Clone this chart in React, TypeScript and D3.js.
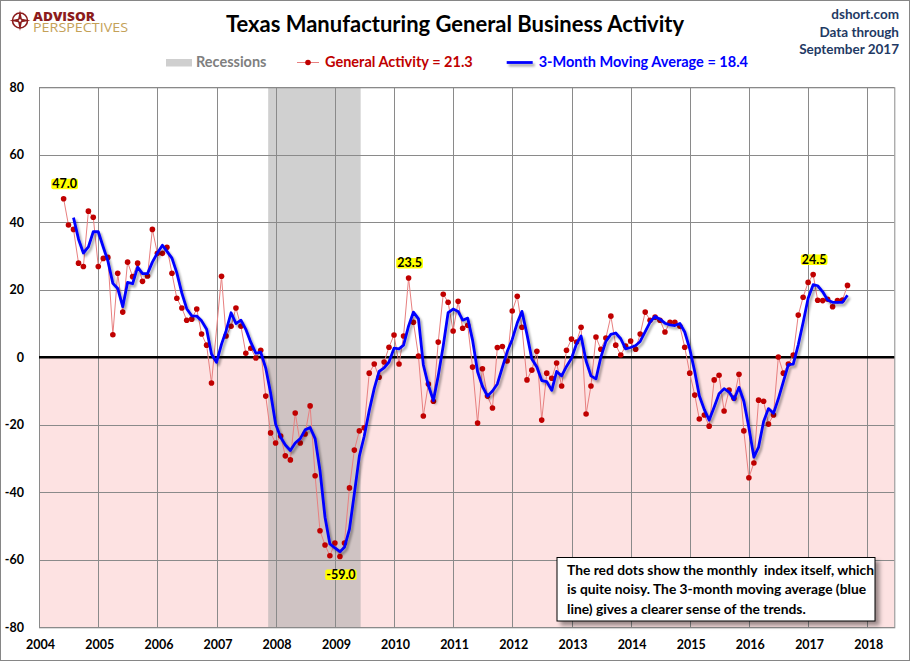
import React, { useEffect, useRef } from 'react';
import * as d3 from 'd3';

// Texas Manufacturing Outlook Survey - general business activity, monthly from June 2004
const firstMonth = new Date(2004, 5, 1);

const generalActivity: (number | null)[] = [
  // 2004 Jun-Dec
  47.0, 39.2, 37.9, 27.9, 26.9, 43.3, 41.5,
  // 2005
  26.9, 29.3, 29.6, 6.7, 24.9, 13.4, 28.2, 23.9, 27.9, 22.5, 24.1, 37.9,
  // 2006
  30.8, 30.8, 32.6, 24.9, 17.5, 14.6, 11.0, 11.3, 14.3, 6.9, 3.6, -7.6,
  // 2007 (no dot for January)
  null, 24.0, 6.3, 9.2, 14.6, 9.2, 1.2, 2.7, -0.2, 2.1, -11.5, -22.4,
  // 2008
  -25.4, -23.3, -29.2, -30.4, -16.5, -25.4, -22.7, -14.4, -35.1, -51.4, -55.6, -58.8,
  // 2009
  -55.0, -59.0, -55.0, -38.7, -27.5, -21.8, -20.9, -4.7, -2.0, -5.9, -1.4, 3.0,
  // 2010
  6.6, -2.0, 6.3, 23.5, 10.4, 0.4, -17.4, -7.9, -13.0, 4.5, 18.7, 16.3,
  // 2011
  7.8, 16.6, 8.6, 9.5, -2.9, -19.5, -3.4, -11.5, -15.0, 2.9, 3.2, -1.1,
  // 2012
  13.7, 18.1, 8.9, -6.7, -3.8, 1.8, -18.6, -4.7, -6.2, -1.7, -8.5, 2.1,
  // 2013
  5.4, 4.5, 8.9, -16.8, -8.5, 6.0, 2.4, 5.7, 12.2, 3.6, 0.7, 3.3,
  // 2014
  4.8, 2.4, 6.9, 13.4, 11.0, 11.9, 11.0, 7.5, 10.4, 10.4, 9.2, 3.0,
  // 2015
  -4.7, -11.2, -18.3, -17.1, -20.4, -6.7, -5.3, -15.9, -9.7, -12.1, -5.0, -21.8,
  // 2016
  -35.7, -31.3, -12.7, -13.0, -19.8, -17.1, 0.1, -4.7, -2.0, 0.7, 12.5, 17.8,
  // 2017 Jan-Sep
  22.2, 24.5, 16.9, 16.8, 17.2, 15.0, 16.8, 17.0, 21.3,
];

const movingAverage: (number | null)[] = [
  // 2004 Jun-Dec
  null, null, 41.4, 35.0, 30.9, 32.7, 37.2,
  // 2005
  37.2, 32.6, 28.6, 21.9, 20.4, 15.0, 22.2, 21.8, 26.7, 24.8, 24.8, 28.2,
  // 2006
  30.9, 33.2, 31.4, 29.4, 25.0, 19.0, 14.4, 12.3, 12.2, 10.8, 8.3, 1.0,
  // 2007
  -1.5, 3.9, 7.8, 13.2, 10.0, 11.0, 8.3, 4.4, 1.2, 1.5, -3.2, -10.6,
  // 2008
  -19.8, -23.7, -26.0, -27.6, -25.4, -24.1, -21.5, -20.8, -24.1, -33.6, -47.4, -55.3,
  // 2009
  -56.5, -57.6, -56.3, -50.9, -40.4, -29.3, -23.4, -15.8, -9.2, -4.2, -3.1, -1.4,
  // 2010
  2.7, 2.5, 3.6, 9.3, 13.4, 11.4, -2.2, -8.3, -12.8, -5.5, 3.4, 13.2,
  // 2011
  14.3, 13.6, 11.0, 11.6, 5.1, -4.3, -8.6, -11.5, -10.0, -7.9, -3.0, 1.7,
  // 2012
  5.3, 10.2, 13.6, 6.8, -0.5, -2.9, -6.9, -7.2, -9.8, -4.2, -5.5, -2.7,
  // 2013
  -0.3, 4.0, 6.3, -1.1, -5.5, -6.4, 0.0, 4.7, 6.8, 7.2, 5.5, 2.5,
  // 2014
  2.9, 3.5, 4.7, 7.6, 10.4, 12.1, 11.3, 10.1, 9.6, 9.4, 10.0, 7.5,
  // 2015
  2.5, -4.3, -11.4, -15.5, -18.6, -14.7, -10.8, -9.3, -10.3, -12.6, -8.9, -13.0,
  // 2016
  -20.8, -29.6, -26.6, -19.0, -15.2, -16.6, -12.3, -7.2, -2.2, -2.0, 3.7, 10.3,
  // 2017 Jan-Sep
  17.5, 21.5, 21.2, 19.4, 17.0, 16.3, 16.3, 16.3, 18.4,
];

const yearTicks = [2004, 2005, 2006, 2007, 2008, 2009, 2010, 2011, 2012, 2013, 2014, 2015, 2016, 2017, 2018];
const valueTicks = [-80, -60, -40, -20, 0, 20, 40, 60, 80];

const recession = { start: new Date(2007, 10, 16), end: new Date(2009, 5, 9) };

// highlighted readings: [month index from June 2004, label]
const callouts: [number, string][] = [
  [0, '47.0'],
  [56, '-59.0'],
  [70, '23.5'],
  [152, '24.5'],
];

const headerLines = ['dshort.com', 'Data through', 'September 2017'];
const noteLines = [
  'The red dots show the monthly  index itself, which',
  'is quite noisy. The 3-month moving average (blue',
  'line) gives a clearer sense of the trends.',
];

const FONT = 'Lato, "Open Sans", sans-serif';

const App: React.FC = () => {
  const chartRef = useRef<SVGSVGElement | null>(null);

  useEffect(() => {
    drawChart();
  }, []);

  const drawChart = () => {
    const root = d3.select(chartRef.current);
    root.selectAll('*').remove();

    const width = 910;
    const height = 661;
    const plot = { left: 39, top: 87.3, right: 894.3, bottom: 627.3 };

    const defs = root.append('defs');
    const shadow = defs.append('filter').attr('id', 'lineShadow')
      .attr('filterUnits', 'userSpaceOnUse')
      .attr('x', 0).attr('y', 0).attr('width', width).attr('height', height);
    shadow.append('feDropShadow').attr('dx', 2).attr('dy', 2.5).attr('stdDeviation', 1.3)
      .attr('flood-color', '#000').attr('flood-opacity', 0.35);
    const boxShadow = defs.append('filter').attr('id', 'boxShadow')
      .attr('x', '-5%').attr('y', '-10%').attr('width', '115%').attr('height', '130%');
    boxShadow.append('feDropShadow').attr('dx', 4).attr('dy', 4).attr('stdDeviation', 2)
      .attr('flood-color', '#000').attr('flood-opacity', 0.4);

    const svg = root.attr('width', width).attr('height', height).style('font-family', FONT);

    svg.append('rect').attr('x', 0.5).attr('y', 0.5).attr('width', width - 1).attr('height', height - 1)
      .attr('fill', '#fff').attr('stroke', '#868686');

    const x = d3.scaleTime()
      .domain([new Date(2004, 0, 1), new Date(2018, 5, 17)])
      .range([plot.left, plot.right]);
    const y = d3.scaleLinear().domain([-80, 80]).range([plot.bottom, plot.top]);

    const monthDate = (i: number) => d3.timeMonth.offset(firstMonth, i);

    // negative zone
    svg.append('rect')
      .attr('x', plot.left).attr('y', y(0))
      .attr('width', plot.right - plot.left).attr('height', y(-80) - y(0))
      .attr('fill', '#fde2e2');

    // recession band
    svg.append('rect')
      .attr('x', x(recession.start)).attr('y', plot.top)
      .attr('width', x(recession.end) - x(recession.start)).attr('height', plot.bottom - plot.top)
      .attr('fill', 'rgb(172,172,172)').attr('fill-opacity', 0.56);

    // grid
    const grid = svg.append('g').attr('stroke', '#8a8a8a').attr('stroke-width', 1);
    yearTicks.filter((yr) => x(new Date(yr, 0, 1)) > plot.left + 1).forEach((yr) => {
      const gx = Math.round(x(new Date(yr, 0, 1))) + 0.5;
      grid.append('line').attr('x1', gx).attr('x2', gx).attr('y1', plot.top).attr('y2', plot.bottom);
    });
    valueTicks.forEach((v) => {
      const gy = Math.round(y(v)) + 0.5;
      grid.append('line').attr('x1', plot.left).attr('x2', plot.right).attr('y1', gy).attr('y2', gy);
    });
    svg.append('rect')
      .attr('x', plot.left + 0.5).attr('y', plot.top + 0.5)
      .attr('width', plot.right - plot.left).attr('height', plot.bottom - plot.top)
      .attr('fill', 'none').attr('stroke', '#8a8a8a');

    // zero line
    svg.append('line')
      .attr('x1', plot.left).attr('x2', plot.right)
      .attr('y1', y(0)).attr('y2', y(0))
      .attr('stroke', '#000').attr('stroke-width', 2.5);

    // axis labels
    svg.append('g').selectAll('text').data(valueTicks).join('text')
      .attr('x', 24).attr('y', (d) => y(d) + 4.5)
      .attr('text-anchor', 'end').attr('font-size', 12.5).attr('font-weight', 700)
      .attr('fill', '#000').text((d) => d);
    svg.append('g').selectAll('text').data(yearTicks).join('text')
      .attr('x', (d) => x(new Date(d, 0, 1)) + 1.5).attr('y', 649)
      .attr('text-anchor', 'middle').attr('font-size', 12.5).attr('font-weight', 700)
      .attr('fill', '#000').text((d) => d);

    // general activity (red)
    const redPts = generalActivity
      .map((v, i) => ({ date: monthDate(i), v }))
      .filter((d) => d.v !== null) as { date: Date; v: number }[];
    const line = d3.line<{ date: Date; v: number }>().x((d) => x(d.date)).y((d) => y(d.v));
    svg.append('path').datum(redPts)
      .attr('fill', 'none').attr('stroke', '#e88080').attr('stroke-width', 1)
      .attr('d', line);
    svg.append('g').selectAll('circle').data(redPts).join('circle')
      .attr('cx', (d) => x(d.date)).attr('cy', (d) => y(d.v)).attr('r', 2.8)
      .attr('fill', '#c00000');

    // moving average (blue)
    const bluePts = movingAverage
      .map((v, i) => ({ date: monthDate(i), v }))
      .filter((d) => d.v !== null) as { date: Date; v: number }[];
    svg.append('path').datum(bluePts)
      .attr('fill', 'none').attr('stroke', '#0000ff').attr('stroke-width', 2.8)
      .attr('stroke-linejoin', 'round')
      .attr('filter', 'url(#lineShadow)')
      .attr('d', line);

    // callouts
    callouts.forEach(([i, label]) => {
      const v = generalActivity[i] as number;
      const cx = x(monthDate(i));
      const cy = v < 0 ? y(v) + 18 : y(v) - 15;
      const g = svg.append('g');
      const rect = g.append('rect').attr('fill', '#ffff00');
      const t = g.append('text')
        .attr('x', cx + 1).attr('y', cy + 4.5)
        .attr('text-anchor', 'middle').attr('font-size', 12.5).attr('font-weight', 700)
        .attr('fill', '#000').text(label);
      const b = (t.node() as SVGTextElement).getBBox();
      rect.attr('x', b.x - 1).attr('y', cy - 5).attr('width', b.width + 2).attr('height', 10.5)
        .attr('rx', 2);
    });

    // title
    svg.append('text')
      .attr('x', 455).attr('y', 32)
      .attr('text-anchor', 'middle').attr('font-size', 22).attr('font-weight', 700)
      .attr('fill', '#000').text('Texas Manufacturing General Business Activity');

    // right header
    svg.append('g').selectAll('text').data(headerLines).join('text')
      .attr('x', 899).attr('y', (_, i) => 19 + i * 17.7)
      .attr('text-anchor', 'end').attr('font-size', 13.5).attr('font-weight', 700)
      .attr('fill', '#1f3a64').text((d) => d);

    // logo
    const logo = svg.append('g');
    logo.append('circle').attr('cx', 20).attr('cy', 20.5).attr('r', 7.5)
      .attr('fill', 'none').attr('stroke', '#8c1c1c').attr('stroke-width', 1.6);
    const star = d3.range(8).map((k) => {
      const a = (k * Math.PI) / 4 - Math.PI / 2;
      const r = k % 2 === 0 ? 10.5 : 2.6;
      return [20 + r * Math.cos(a), 20.5 + r * Math.sin(a)] as [number, number];
    });
    logo.append('path').attr('d', d3.line()(star.concat([star[0]])) as string).attr('fill', '#8c1c1c');
    logo.append('circle').attr('cx', 20).attr('cy', 20.5).attr('r', 1.2).attr('fill', '#fff');
    const brand = logo.append('text').attr('font-family', '"Open Sans", sans-serif');
    brand.append('tspan').attr('x', 33).attr('y', 21).attr('font-size', 13).attr('font-weight', 900)
      .attr('fill', '#8c1c1c')
      .attr('textLength', 62).attr('lengthAdjust', 'spacingAndGlyphs').text('ADVISOR');
    brand.append('tspan').attr('x', 33).attr('y', 31.5).attr('font-size', 12).attr('font-weight', 400)
      .attr('fill', '#c4a158')
      .attr('textLength', 95).attr('lengthAdjust', 'spacingAndGlyphs').text('PERSPECTIVES');

    // legend
    const legend = svg.append('g').attr('font-size', 14.5).attr('font-weight', 700);
    legend.append('rect').attr('x', 166).attr('y', 59).attr('width', 26).attr('height', 7.5)
      .attr('fill', '#cfcfcf');
    legend.append('text').attr('x', 196).attr('y', 67).attr('fill', '#7f7f7f').text('Recessions');
    legend.append('line').attr('x1', 297).attr('x2', 319).attr('y1', 62.5).attr('y2', 62.5)
      .attr('stroke', '#e88080').attr('stroke-width', 1);
    legend.append('circle').attr('cx', 308).attr('cy', 62.5).attr('r', 2.8).attr('fill', '#c00000');
    legend.append('text').attr('x', 325).attr('y', 67).attr('fill', '#c00000')
      .text('General Activity = 21.3');
    const blueLabel = legend.append('text').attr('x', 748).attr('y', 67).attr('fill', '#0000ff')
      .attr('text-anchor', 'end').text('3-Month Moving Average = 18.4');
    const bb = (blueLabel.node() as SVGTextElement).getBBox();
    legend.append('line').attr('x1', bb.x - 32).attr('x2', bb.x - 6).attr('y1', 62.5).attr('y2', 62.5)
      .attr('stroke', '#0000ff').attr('stroke-width', 2.8).attr('filter', 'url(#lineShadow)');

    // note box
    const note = svg.append('g');
    note.append('rect').attr('x', 557).attr('y', 557.5).attr('width', 318).attr('height', 63.5)
      .attr('fill', '#fff').attr('stroke', '#000').attr('stroke-width', 1)
      .attr('filter', 'url(#boxShadow)');
    note.selectAll('text').data(noteLines).join('text')
      .attr('x', 567).attr('y', (_, i) => 574.5 + i * 19.5)
      .attr('font-size', 13.8).attr('font-weight', 700).attr('fill', '#000')
      .style('white-space', 'pre').text((d) => d);
  };

  return (
    <div style={{ position: 'absolute', left: 0, top: 0 }}>
      <style>{'body { margin: 0; }'}</style>
      <svg ref={chartRef} width={910} height={661}></svg>
    </div>
  );
};

export default App;
